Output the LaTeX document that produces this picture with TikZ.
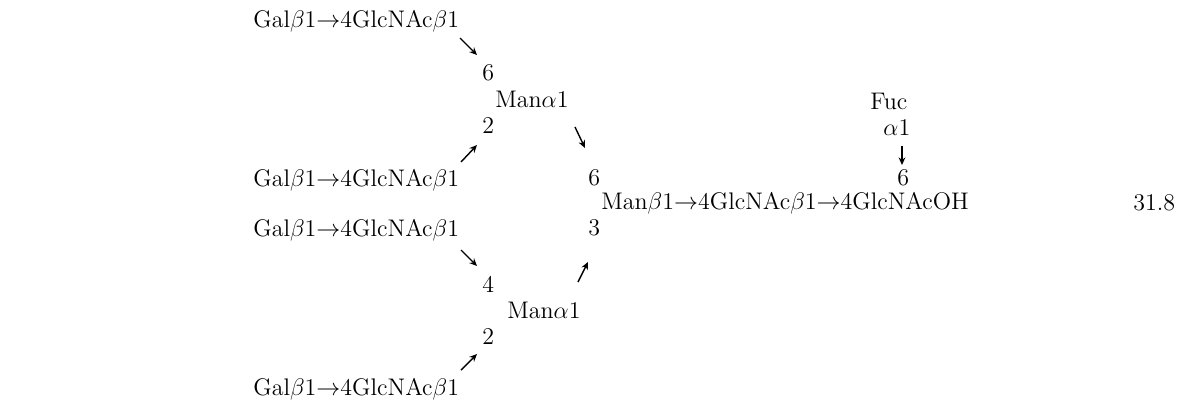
\documentclass[tikz,border=0pt]{standalone}
\usetikzlibrary{arrows.meta}
\begin{document}
\begin{tikzpicture}[x=0.5pt,y=-0.5pt,
  lbl/.style={anchor=base west,inner sep=0pt,font=\fontsize{12}{14}\selectfont},
  lnk/.style={line width=0.7pt,-{Stealth[length=3.8pt,width=3.4pt]}}]
\useasboundingbox (0,0) rectangle (1184,403);
% left branches
\node[lbl] (g1) at (253,27) {Gal$\beta$1$\rightarrow$4GlcNAc$\beta$1};
\node[lbl] (g2) at (253,186) {Gal$\beta$1$\rightarrow$4GlcNAc$\beta$1};
\node[lbl] (g3) at (253,236) {Gal$\beta$1$\rightarrow$4GlcNAc$\beta$1};
\node[lbl] (g4) at (253,395) {Gal$\beta$1$\rightarrow$4GlcNAc$\beta$1};
% upper mannose
\node[lbl] (u6) at (482,80) {6};
\node[lbl] (uman) at (495,107) {Man$\alpha$1};
\node[lbl] (u2) at (482,133) {2};
% lower mannose
\node[lbl] (l4) at (482,292) {4};
\node[lbl] (lman) at (507,318) {Man$\alpha$1};
\node[lbl] (l2) at (482,344) {2};
% core
\node[lbl] (c6) at (588,185) {6};
\node[lbl] (core) at (601,209) {Man$\beta$1$\rightarrow$4GlcNAc$\beta$1$\rightarrow$4GlcNAcOH};
\node[lbl] (c3) at (588,235) {3};
% fucose
\node[lbl] (fuc) at (870,109) {Fuc};
\node[lbl] (fa) at (883,135) {$\alpha$1};
\node[lbl] (f6) at (897,185) {6};
% value
\node[lbl] (val) at (1133,210) {31.8};
% arrow end points
\coordinate (a1s) at (460,38);  \coordinate (a1e) at (477,55);
\coordinate (a2s) at (461,162); \coordinate (a2e) at (477,145);
\coordinate (a3s) at (575,127); \coordinate (a3e) at (585,148);
\coordinate (a4s) at (461,250); \coordinate (a4e) at (477,266);
\coordinate (a5s) at (461,370); \coordinate (a5e) at (477,354);
\coordinate (a6s) at (578,282); \coordinate (a6e) at (588,262);
\coordinate (a7s) at (902,146); \coordinate (a7e) at (902,165);
\draw[lnk] (a1s) -- (a1e);
\draw[lnk] (a2s) -- (a2e);
\draw[lnk] (a3s) -- (a3e);
\draw[lnk] (a4s) -- (a4e);
\draw[lnk] (a5s) -- (a5e);
\draw[lnk] (a6s) -- (a6e);
\draw[lnk] (a7s) -- (a7e);
\end{tikzpicture}
\end{document}
